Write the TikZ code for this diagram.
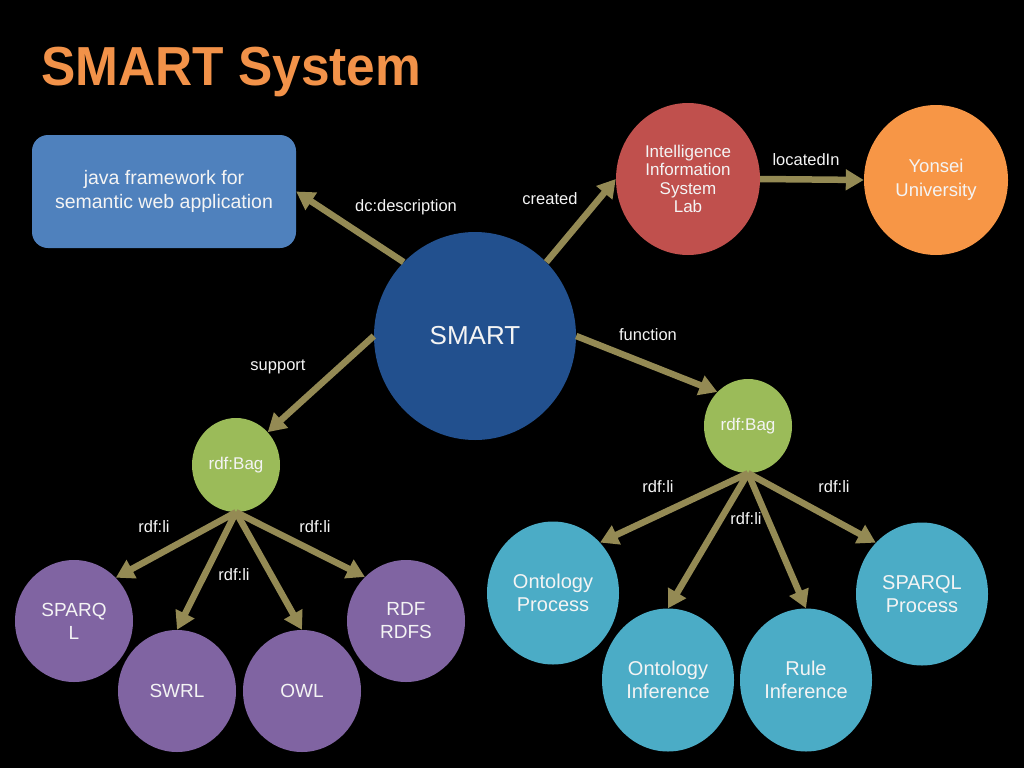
\documentclass[tikz,border=0pt]{standalone}
\usepackage{fontspec}
\setmainfont{Liberation Sans}
\usetikzlibrary{shapes.geometric,arrows.meta}
\definecolor{titleor}{HTML}{F29249}
\definecolor{bluebox}{HTML}{4F81BD}
\definecolor{smartc}{HTML}{22508E}
\definecolor{redc}{HTML}{C0504D}
\definecolor{orangec}{HTML}{F79646}
\definecolor{greenc}{HTML}{9BBB59}
\definecolor{purplec}{HTML}{8064A2}
\definecolor{cyanc}{HTML}{4BACC6}
\definecolor{arrowc}{HTML}{948A54}
\definecolor{txt}{HTML}{F4F4F4}
\begin{document}
\begin{tikzpicture}[x=1pt,y=-1pt,
  ball/.style={ellipse, inner sep=0pt, text=txt, align=center},
  conn/.style={draw=arrowc, line width=6.5pt, -{Triangle[width=20pt,length=18pt]}},
  lbl/.style={text=txt, font=\fontsize{16.5}{18}\selectfont, inner sep=0pt},
  pball/.style={ball, fill=purplec, minimum width=118pt, minimum height=122pt, font=\fontsize{19}{23}\selectfont},
  cball/.style={ball, fill=cyanc, minimum width=132pt, minimum height=143pt, font=\fontsize{20}{23.5}\selectfont},
  gball/.style={ball, fill=greenc, minimum width=88pt, minimum height=94pt, font=\fontsize{17}{20}\selectfont},
]
\fill[black] (0,0) rectangle (1024,768);
\useasboundingbox (0,0) rectangle (1024,768);

\node[anchor=base west, text=titleor, font=\bfseries\fontsize{55}{60}\selectfont, inner sep=0pt] (title) at (41,85) {\scalebox{0.935}[1]{SMART System}};

\node[fill=bluebox, rounded corners=16pt, minimum width=264pt, minimum height=113pt, inner sep=0pt, text=txt, align=center, font=\fontsize{19.5}{24}\selectfont] (desc) at (164,191.5) {java framework for\\semantic web application};

\node[ball, fill=smartc, minimum width=202pt, minimum height=208pt, font=\fontsize{26}{30}\selectfont] (smart) at (475,336) {SMART};
\node[ball, fill=redc, minimum width=144pt, minimum height=152pt, font=\fontsize{17}{18.5}\selectfont] (lab) at (688,179) {Intelligence\\Information\\System\\Lab};
\node[ball, fill=orangec, minimum width=144pt, minimum height=150pt, font=\fontsize{18.5}{24}\selectfont] (yon) at (936,180) {Yonsei\\University};

\node[gball] (bagL) at (236,465) {rdf:Bag};
\node[gball] (bagR) at (748,426) {rdf:Bag};

\node[pball] (spq) at (74,621) {SPARQ\\L};
\node[pball] (swrl) at (177,691) {SWRL};
\node[pball] (owl) at (302,691) {OWL};
\node[pball] (rdf) at (406,621) {RDF\\RDFS};

\node[cball] (op) at (553,593) {Ontology\\Process};
\node[cball] (oi) at (668,680) {Ontology\\Inference};
\node[cball] (ri) at (806,680) {Rule\\Inference};
\node[cball] (sp) at (922,594) {SPARQL\\Process};

\draw[conn] (smart.134) -- (desc.east);
\draw[conn] (smart.46) -- (lab.west);
\draw[conn] (lab.east) -- (yon.west);
\draw[conn] (smart.0) -- (bagR.132);
\draw[conn] (smart.180) -- (bagL.46);

\draw[conn] (bagL.south) -- (spq.46);
\draw[conn] (bagL.south) -- (swrl.north);
\draw[conn] (bagL.south) -- (owl.north);
\draw[conn] (bagL.south) -- (rdf.133);

\draw[conn] (bagR.south) -- (op.47);
\draw[conn] (bagR.south) -- (oi.north);
\draw[conn] (bagR.south) -- (ri.north);
\draw[conn] (bagR.south) -- (sp.132);

\node[lbl] (l1) at (406,207) {dc:description};
\node[lbl] (l2) at (550,199) {created};
\node[lbl] (l3) at (806,160) {locatedIn};
\node[lbl] (l4) at (648,335) {function};
\node[lbl] (l5) at (278,367) {support};
\node[lbl] (l6) at (154,527) {rdf:li};
\node[lbl] (l7) at (315,527) {rdf:li};
\node[lbl] (l8) at (234,575) {rdf:li};
\node[lbl] (l9) at (658,487) {rdf:li};
\node[lbl] (l10) at (834,487) {rdf:li};
\node[lbl] (l11) at (746,519) {rdf:li};
\end{tikzpicture}
\end{document}
